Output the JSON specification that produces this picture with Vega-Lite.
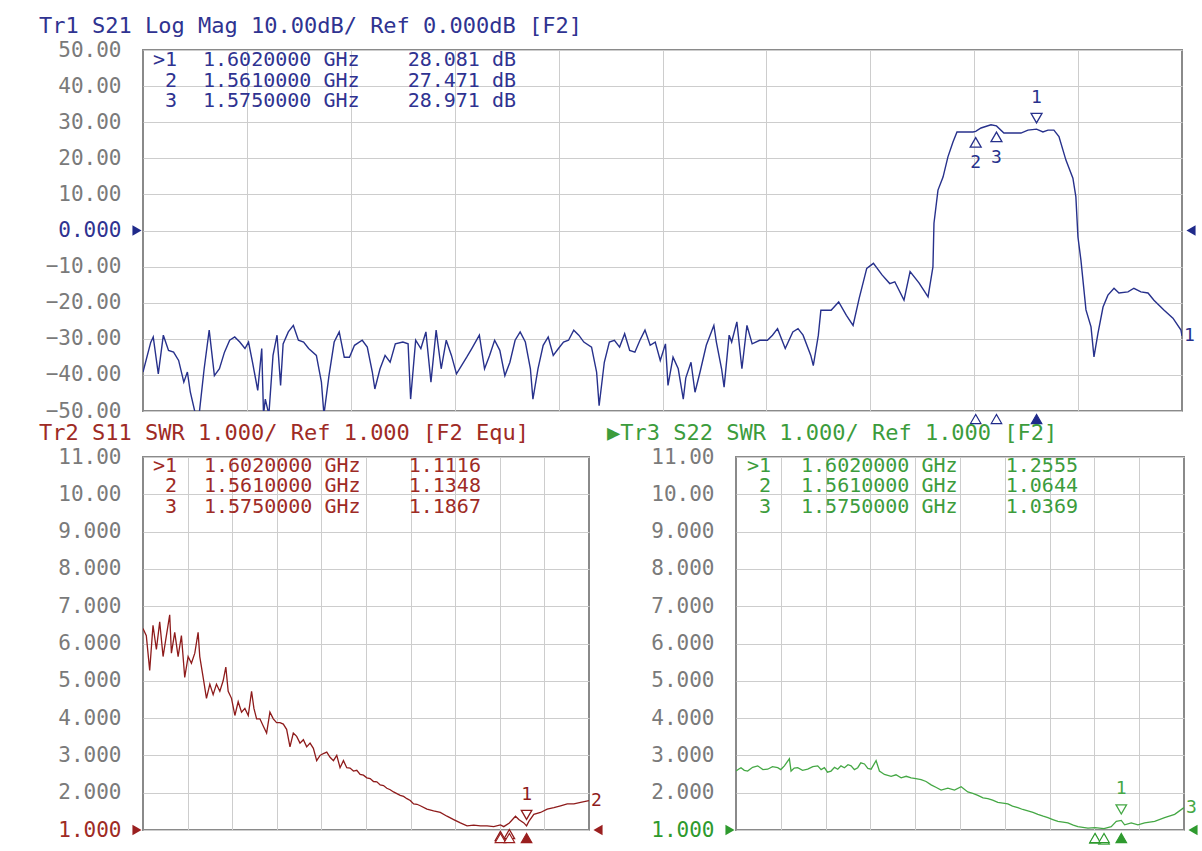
{
  "$schema": "https://vega.github.io/schema/vega-lite/v6.json",
  "background": "white",
  "padding": {"left": 38, "top": 14, "right": 4, "bottom": 4},
  "config": {
    "view": {"stroke": "#8a8a8a", "strokeWidth": 2},
    "axis": {"grid": true, "gridColor": "#cdcdcd", "gridWidth": 1, "ticks": false, "domain": false, "labelFont": "DejaVu Sans Mono", "labelFontSize": 21, "labelColor": "#7a7a7a", "labelFlush": false, "labelOverlap": false},
    "title": {"font": "DejaVu Sans Mono", "fontSize": 22, "fontWeight": "normal", "anchor": "start", "frame": "group"},
    "text": {"font": "DejaVu Sans Mono"}
  },
  "datasets": {
    "markers": [
      {"m": 1, "trace": "S21", "f": 1.602, "v": 28.081},
      {"m": 2, "trace": "S21", "f": 1.561, "v": 27.471},
      {"m": 3, "trace": "S21", "f": 1.575, "v": 28.971},
      {"m": 1, "trace": "S11", "f": 1.602, "v": 1.1116},
      {"m": 2, "trace": "S11", "f": 1.561, "v": 1.1348},
      {"m": 3, "trace": "S11", "f": 1.575, "v": 1.1867},
      {"m": 1, "trace": "S22", "f": 1.602, "v": 1.2555},
      {"m": 2, "trace": "S22", "f": 1.561, "v": 1.0644},
      {"m": 3, "trace": "S22", "f": 1.575, "v": 1.0369}
    ],
    "refs": [
      {"trace": "S21", "v": 0, "fstart": 1.0, "fstop": 1.7},
      {"trace": "S11", "v": 1, "fstart": 1.0, "fstop": 1.7},
      {"trace": "S22", "v": 1, "fstart": 1.0, "fstop": 1.7}
    ],
    "s21": [
      {"f":1.0,"v":-39.2},{"f":1.0052,"v":-31},{"f":1.0069,"v":-29.5},{"f":1.0103,"v":-39.7},{"f":1.0137,"v":-29.0},{"f":1.0172,"v":-33.2},{"f":1.0206,"v":-33.7},{"f":1.024,"v":-36.0},{"f":1.0275,"v":-42.0},{"f":1.0299,"v":-39.2},{"f":1.0319,"v":-44.8},{"f":1.0354,"v":-51},{"f":1.0378,"v":-51},{"f":1.0412,"v":-38.3},{"f":1.0446,"v":-27.6},{"f":1.0481,"v":-40.2},{"f":1.0515,"v":-38.3},{"f":1.0549,"v":-33.7},{"f":1.0584,"v":-30.4},{"f":1.0618,"v":-29.5},{"f":1.0652,"v":-30.9},{"f":1.0687,"v":-32.7},{"f":1.0711,"v":-30.9},{"f":1.0738,"v":-36.5},{"f":1.0773,"v":-44.3},{"f":1.08,"v":-32.7},{"f":1.0812,"v":-51},{"f":1.0824,"v":-46.7},{"f":1.0848,"v":-51},{"f":1.0876,"v":-34.6},{"f":1.0903,"v":-29.0},{"f":1.0927,"v":-42.9},{"f":1.0944,"v":-31.4},{"f":1.0979,"v":-28.1},{"f":1.1013,"v":-26.3},{"f":1.1047,"v":-30.4},{"f":1.1082,"v":-30.9},{"f":1.1116,"v":-32.7},{"f":1.1168,"v":-34.6},{"f":1.1202,"v":-42.0},{"f":1.1219,"v":-51},{"f":1.1253,"v":-40.2},{"f":1.1288,"v":-30.9},{"f":1.1322,"v":-28.1},{"f":1.1356,"v":-35.1},{"f":1.1391,"v":-35.1},{"f":1.1425,"v":-31.8},{"f":1.1477,"v":-30.4},{"f":1.1511,"v":-32.3},{"f":1.1545,"v":-39.2},{"f":1.1562,"v":-43.9},{"f":1.1597,"v":-38.3},{"f":1.1631,"v":-34.6},{"f":1.1665,"v":-36.5},{"f":1.17,"v":-31.4},{"f":1.1751,"v":-30.9},{"f":1.1786,"v":-31.4},{"f":1.1803,"v":-46.7},{"f":1.1837,"v":-30.4},{"f":1.1872,"v":-32.7},{"f":1.1906,"v":-28.1},{"f":1.194,"v":-42.0},{"f":1.1975,"v":-27.6},{"f":1.2009,"v":-38.3},{"f":1.2043,"v":-30.4},{"f":1.2078,"v":-34.6},{"f":1.2112,"v":-39.7},{"f":1.2146,"v":-37.4},{"f":1.2181,"v":-35.1},{"f":1.2215,"v":-32.7},{"f":1.2266,"v":-29.0},{"f":1.2301,"v":-38.3},{"f":1.2335,"v":-34.6},{"f":1.2369,"v":-30.4},{"f":1.2404,"v":-33.2},{"f":1.2438,"v":-40.2},{"f":1.2472,"v":-36.5},{"f":1.2507,"v":-30.4},{"f":1.2541,"v":-28.1},{"f":1.2576,"v":-30.9},{"f":1.261,"v":-38.3},{"f":1.2627,"v":-46.7},{"f":1.2661,"v":-38.3},{"f":1.2696,"v":-31.8},{"f":1.273,"v":-29.5},{"f":1.2764,"v":-34.6},{"f":1.2799,"v":-32.7},{"f":1.2833,"v":-30.9},{"f":1.2867,"v":-30.4},{"f":1.2902,"v":-27.6},{"f":1.2936,"v":-29.0},{"f":1.297,"v":-30.9},{"f":1.3022,"v":-32.3},{"f":1.3056,"v":-39.2},{"f":1.3073,"v":-48.5},{"f":1.3108,"v":-36.5},{"f":1.3142,"v":-30.9},{"f":1.3176,"v":-30.4},{"f":1.3211,"v":-32.3},{"f":1.3245,"v":-28.6},{"f":1.3279,"v":-33.2},{"f":1.3314,"v":-33.7},{"f":1.3348,"v":-30.4},{"f":1.3382,"v":-27.6},{"f":1.3417,"v":-31.8},{"f":1.3451,"v":-30.9},{"f":1.3485,"v":-36.0},{"f":1.352,"v":-31.4},{"f":1.3537,"v":-42.9},{"f":1.3571,"v":-35.1},{"f":1.3606,"v":-38.3},{"f":1.364,"v":-46.7},{"f":1.3657,"v":-40.8},{"f":1.3692,"v":-36.5},{"f":1.3719,"v":-44.8},{"f":1.3753,"v":-39.2},{"f":1.3795,"v":-31.8},{"f":1.3846,"v":-26.3},{"f":1.3863,"v":-30.9},{"f":1.3898,"v":-38.3},{"f":1.3915,"v":-43.4},{"f":1.3949,"v":-29.0},{"f":1.3966,"v":-30.9},{"f":1.4001,"v":-25.3},{"f":1.4035,"v":-38.3},{"f":1.4069,"v":-26.3},{"f":1.4104,"v":-31.4},{"f":1.4155,"v":-30.4},{"f":1.4207,"v":-30.4},{"f":1.4241,"v":-29.0},{"f":1.4275,"v":-27.2},{"f":1.4327,"v":-32.7},{"f":1.4378,"v":-28.1},{"f":1.4413,"v":-27.2},{"f":1.4447,"v":-29.0},{"f":1.4499,"v":-34.6},{"f":1.4516,"v":-37.4},{"f":1.455,"v":-29.0},{"f":1.4567,"v":-22.1},{"f":1.4636,"v":-22.1},{"f":1.4687,"v":-19.8},{"f":1.4739,"v":-23.5},{"f":1.4784,"v":-26.3},{"f":1.4825,"v":-18.8},{"f":1.4876,"v":-10.5},{"f":1.4921,"v":-9.1},{"f":1.4979,"v":-12.3},{"f":1.5031,"v":-14.7},{"f":1.5065,"v":-14.2},{"f":1.5127,"v":-19.3},{"f":1.5168,"v":-11.4},{"f":1.5228,"v":-14.5},{"f":1.5289,"v":-18.4},{"f":1.5322,"v":-10.1},{"f":1.5329,"v":2},{"f":1.5356,"v":11.2},{"f":1.539,"v":14.8},{"f":1.5423,"v":20.4},{"f":1.5457,"v":24.5},{"f":1.5484,"v":27.3},{"f":1.5592,"v":27.3},{"f":1.561,"v":27.471},{"f":1.5646,"v":28.4},{"f":1.5713,"v":29.3},{"f":1.575,"v":28.971},{"f":1.58,"v":27.0},{"f":1.5915,"v":27.0},{"f":1.5962,"v":27.8},{"f":1.602,"v":28.081},{"f":1.6063,"v":27.3},{"f":1.6097,"v":27.8},{"f":1.6137,"v":27.8},{"f":1.6171,"v":26},{"f":1.6218,"v":19.5},{"f":1.6265,"v":14.5},{"f":1.6285,"v":9.3},{"f":1.6299,"v":-1.8},{"f":1.6319,"v":-8.2},{"f":1.6353,"v":-22},{"f":1.6387,"v":-26.7},{"f":1.6407,"v":-35},{"f":1.6434,"v":-28.4},{"f":1.6468,"v":-21.2},{"f":1.6501,"v":-17.9},{"f":1.6542,"v":-16},{"f":1.6575,"v":-17.3},{"f":1.6636,"v":-17},{"f":1.6676,"v":-16},{"f":1.6723,"v":-17},{"f":1.6771,"v":-17.3},{"f":1.6811,"v":-19.3},{"f":1.6878,"v":-22},{"f":1.6939,"v":-24.3},{"f":1.6993,"v":-27.6},{"f":1.7,"v":-29.2}
    ],
    "s11": [
      {"f":1.0,"v":6.40},{"f":1.0052,"v":6.21},{"f":1.0105,"v":5.28},{"f":1.0157,"v":6.49},{"f":1.021,"v":5.84},{"f":1.0262,"v":6.58},{"f":1.0315,"v":5.65},{"f":1.0367,"v":6.21},{"f":1.0419,"v":6.77},{"f":1.0446,"v":5.74},{"f":1.0498,"v":6.30},{"f":1.0551,"v":5.65},{"f":1.0603,"v":6.21},{"f":1.0655,"v":5.09},{"f":1.0708,"v":5.65},{"f":1.076,"v":5.47},{"f":1.0813,"v":5.74},{"f":1.0865,"v":6.30},{"f":1.0891,"v":5.65},{"f":1.0944,"v":5.09},{"f":1.0996,"v":4.53},{"f":1.1049,"v":4.91},{"f":1.1101,"v":4.63},{"f":1.1153,"v":4.91},{"f":1.1206,"v":4.72},{"f":1.1258,"v":5.00},{"f":1.13,"v":5.37},{"f":1.1337,"v":4.72},{"f":1.1389,"v":4.53},{"f":1.1442,"v":4.07},{"f":1.1494,"v":4.44},{"f":1.1547,"v":4.16},{"f":1.1599,"v":4.26},{"f":1.1652,"v":4.07},{"f":1.1704,"v":4.72},{"f":1.1741,"v":4.26},{"f":1.1783,"v":3.98},{"f":1.1835,"v":3.98},{"f":1.1887,"v":3.79},{"f":1.194,"v":3.60},{"f":1.1992,"v":4.16},{"f":1.2045,"v":3.98},{"f":1.2097,"v":3.88},{"f":1.215,"v":3.88},{"f":1.2202,"v":3.84},{"f":1.2254,"v":3.70},{"f":1.2307,"v":3.23},{"f":1.2359,"v":3.60},{"f":1.2412,"v":3.51},{"f":1.2464,"v":3.33},{"f":1.2517,"v":3.42},{"f":1.2569,"v":3.23},{"f":1.2622,"v":3.33},{"f":1.2674,"v":3.19},{"f":1.2726,"v":2.86},{"f":1.2779,"v":3.00},{"f":1.2831,"v":3.05},{"f":1.2884,"v":3.09},{"f":1.2936,"v":2.95},{"f":1.2989,"v":2.86},{"f":1.3041,"v":3.00},{"f":1.3093,"v":2.67},{"f":1.3146,"v":2.86},{"f":1.3198,"v":2.67},{"f":1.325,"v":2.66},{"f":1.3303,"v":2.58},{"f":1.3355,"v":2.60},{"f":1.3408,"v":2.49},{"f":1.346,"v":2.47},{"f":1.3513,"v":2.40},{"f":1.3565,"v":2.38},{"f":1.3618,"v":2.30},{"f":1.367,"v":2.29},{"f":1.3723,"v":2.21},{"f":1.3775,"v":2.19},{"f":1.3827,"v":2.12},{"f":1.388,"v":2.08},{"f":1.3932,"v":2.02},{"f":1.4037,"v":1.93},{"f":1.409,"v":1.90},{"f":1.4142,"v":1.84},{"f":1.4195,"v":1.79},{"f":1.4247,"v":1.70},{"f":1.43,"v":1.69},{"f":1.4352,"v":1.65},{"f":1.4457,"v":1.56},{"f":1.4561,"v":1.51},{"f":1.4666,"v":1.47},{"f":1.4771,"v":1.37},{"f":1.4876,"v":1.28},{"f":1.4981,"v":1.19},{"f":1.5086,"v":1.11},{"f":1.5191,"v":1.13},{"f":1.5295,"v":1.11},{"f":1.54,"v":1.11},{"f":1.5505,"v":1.09},{"f":1.561,"v":1.1348},{"f":1.5662,"v":1.09},{"f":1.575,"v":1.1867},{"f":1.5846,"v":1.37},{"f":1.5898,"v":1.28},{"f":1.5977,"v":1.19},{"f":1.602,"v":1.1116},{"f":1.6056,"v":1.23},{"f":1.6134,"v":1.42},{"f":1.6239,"v":1.47},{"f":1.6344,"v":1.56},{"f":1.6449,"v":1.60},{"f":1.6554,"v":1.65},{"f":1.6659,"v":1.70},{"f":1.6763,"v":1.70},{"f":1.6868,"v":1.74},{"f":1.7,"v":1.79}
    ],
    "s22": [
      {"f":1.0,"v":2.58},{"f":1.0039,"v":2.63},{"f":1.0078,"v":2.67},{"f":1.013,"v":2.60},{"f":1.0182,"v":2.58},{"f":1.026,"v":2.68},{"f":1.0339,"v":2.72},{"f":1.042,"v":2.62},{"f":1.0495,"v":2.63},{"f":1.057,"v":2.70},{"f":1.0652,"v":2.67},{"f":1.07,"v":2.62},{"f":1.0756,"v":2.72},{"f":1.0834,"v":2.91},{"f":1.086,"v":2.58},{"f":1.091,"v":2.66},{"f":1.0964,"v":2.67},{"f":1.104,"v":2.60},{"f":1.1121,"v":2.63},{"f":1.12,"v":2.70},{"f":1.1277,"v":2.72},{"f":1.133,"v":2.62},{"f":1.1381,"v":2.67},{"f":1.143,"v":2.55},{"f":1.1485,"v":2.58},{"f":1.154,"v":2.68},{"f":1.159,"v":2.63},{"f":1.164,"v":2.72},{"f":1.1694,"v":2.67},{"f":1.175,"v":2.75},{"f":1.1798,"v":2.72},{"f":1.185,"v":2.62},{"f":1.1902,"v":2.67},{"f":1.195,"v":2.80},{"f":1.2007,"v":2.77},{"f":1.206,"v":2.65},{"f":1.2111,"v":2.63},{"f":1.2189,"v":2.86},{"f":1.2241,"v":2.58},{"f":1.2319,"v":2.49},{"f":1.2424,"v":2.44},{"f":1.25,"v":2.48},{"f":1.258,"v":2.40},{"f":1.266,"v":2.44},{"f":1.2736,"v":2.40},{"f":1.281,"v":2.38},{"f":1.2893,"v":2.35},{"f":1.297,"v":2.30},{"f":1.3049,"v":2.21},{"f":1.313,"v":2.14},{"f":1.3205,"v":2.07},{"f":1.331,"v":2.12},{"f":1.3414,"v":2.07},{"f":1.3518,"v":2.16},{"f":1.3622,"v":2.02},{"f":1.37,"v":1.98},{"f":1.3779,"v":1.93},{"f":1.386,"v":1.86},{"f":1.3935,"v":1.84},{"f":1.401,"v":1.80},{"f":1.4091,"v":1.74},{"f":1.417,"v":1.72},{"f":1.4248,"v":1.70},{"f":1.432,"v":1.64},{"f":1.4404,"v":1.60},{"f":1.448,"v":1.55},{"f":1.4561,"v":1.51},{"f":1.464,"v":1.47},{"f":1.4717,"v":1.42},{"f":1.48,"v":1.37},{"f":1.4873,"v":1.33},{"f":1.495,"v":1.28},{"f":1.503,"v":1.23},{"f":1.511,"v":1.21},{"f":1.5186,"v":1.19},{"f":1.527,"v":1.13},{"f":1.5342,"v":1.09},{"f":1.542,"v":1.07},{"f":1.5499,"v":1.05},{"f":1.561,"v":1.0644},{"f":1.575,"v":1.0369},{"f":1.5863,"v":1.09},{"f":1.5942,"v":1.23},{"f":1.602,"v":1.2555},{"f":1.6072,"v":1.14},{"f":1.6176,"v":1.19},{"f":1.628,"v":1.14},{"f":1.6385,"v":1.19},{"f":1.6541,"v":1.23},{"f":1.6697,"v":1.33},{"f":1.6854,"v":1.42},{"f":1.7,"v":1.60}
    ]
  },
  "spacing": 46,
  "bounds": "flush",
  "vconcat": [
    {
      "width": 1039,
      "height": 361,
      "title": {"text": "Tr1 S21 Log Mag 10.00dB/ Ref 0.000dB [F2]", "color": "#2f3391", "dx": -104, "offset": 1},
      "encoding": {
        "x": {"field": "f", "type": "quantitative", "title": null, "scale": {"domain": [1.0, 1.7], "nice": false, "zero": false}, "axis": {"values": [1.07, 1.14, 1.21, 1.28, 1.35, 1.42, 1.49, 1.56, 1.63], "labels": false, "title": null}},
        "y": {"field": "v", "type": "quantitative", "title": null, "scale": {"domain": [-50, 50], "nice": false, "zero": false}, "axis": {"values": [-50, -40, -30, -20, -10, 0, 10, 20, 30, 40, 50], "labelExpr": "datum.value == 0 ? '0.000' : format(datum.value, '.4r')", "title": null, "labelPadding": 22, "labelColor": {"condition": {"test": "datum.value == 0", "value": "#2f3391"}, "value": "#7a7a7a"}}}
      },
      "layer": [
        {"data": {"name": "s21"}, "mark": {"type": "line", "color": "#27318c", "strokeWidth": 1.4, "clip": true}},
        {"data": {"name": "refs"}, "transform": [{"filter": "datum.trace == 'S21'"}], "mark": {"type": "point", "shape": "triangle-right", "filled": true, "color": "#1f2a8a", "opacity": 1, "size": 110, "xOffset": -6},
         "encoding": {"x": {"field": "fstart", "type": "quantitative", "title": null}}},
        {"data": {"name": "refs"}, "transform": [{"filter": "datum.trace == 'S21'"}], "mark": {"type": "point", "shape": "triangle-left", "filled": true, "color": "#1f2a8a", "opacity": 1, "size": 110, "xOffset": 9},
         "encoding": {"x": {"field": "fstop", "type": "quantitative", "title": null}}},
        {"data": {"name": "markers"}, "transform": [{"filter": "datum.trace == 'S21' && datum.m == 1"}], "mark": {"type": "point", "shape": "triangle-down", "filled": false, "color": "#27318c", "strokeWidth": 1.3, "opacity": 1, "size": 120, "yOffset": -11}},
        {"data": {"name": "markers"}, "transform": [{"filter": "datum.trace == 'S21' && datum.m != 1"}], "mark": {"type": "point", "shape": "triangle-up", "filled": false, "color": "#27318c", "strokeWidth": 1.3, "opacity": 1, "size": 120, "yOffset": 11}},
        {"data": {"name": "markers"}, "transform": [{"filter": "datum.trace == 'S21' && datum.m == 1"}], "mark": {"type": "text", "color": "#27318c", "fontSize": 18, "dy": -31}, "encoding": {"text": {"field": "m"}}},
        {"data": {"name": "markers"}, "transform": [{"filter": "datum.trace == 'S21' && datum.m != 1"}], "mark": {"type": "text", "color": "#27318c", "fontSize": 18, "dy": 32}, "encoding": {"text": {"field": "m"}}},
        {"data": {"name": "markers"}, "transform": [{"filter": "datum.trace == 'S21'"}], "mark": {"type": "point", "shape": "triangle-up", "filled": true, "stroke": "#1f2a8a", "strokeWidth": 1.2, "opacity": 1, "size": 110, "yOffset": 8},
         "encoding": {"y": {"datum": -50}, "fill": {"condition": {"test": "datum.m == 1", "value": "#1f2a8a"}, "value": "#ffffff"}}},
        {"data": {"name": "s21"}, "transform": [{"filter": "datum.f == 1.7"}], "mark": {"type": "text", "color": "#27318c", "fontSize": 18, "align": "left", "dx": 2}, "encoding": {"text": {"value": "1"}}},
        {"data": {"name": "markers"}, "transform": [{"filter": "datum.trace == 'S21'"}, {"calculate": "47.2 - 5.7 * (datum.m - 1)", "as": "ty"}, {"calculate": "(datum.m == 1 ? '>' : '') + datum.m", "as": "id"}], "mark": {"type": "text", "color": "#2f3391", "fontSize": 20, "align": "right", "baseline": "middle"},
         "encoding": {"x": {"datum": 1.0229}, "y": {"field": "ty", "type": "quantitative", "title": null}, "text": {"field": "id"}}},
        {"data": {"name": "markers"}, "transform": [{"filter": "datum.trace == 'S21'"}, {"calculate": "47.2 - 5.7 * (datum.m - 1)", "as": "ty"}, {"calculate": "format(datum.f, '.7f') + ' GHz\u00a0\u00a0\u00a0\u00a0' + format(datum.v, '.3f') + ' dB'", "as": "label"}], "mark": {"type": "text", "color": "#2f3391", "fontSize": 20, "align": "left", "baseline": "middle"},
         "encoding": {"x": {"datum": 1.0404}, "y": {"field": "ty", "type": "quantitative", "title": null}, "text": {"field": "label"}}}
      ]
    },
    {
      "spacing": 147,
      "bounds": "flush",
      "hconcat": [
        {
          "width": 446,
          "height": 373,
          "title": {"text": "Tr2 S11 SWR 1.000/ Ref 1.000 [F2 Equ]", "color": "#9e2b25", "dx": -104, "offset": 1},
          "encoding": {
            "x": {"field": "f", "type": "quantitative", "title": null, "scale": {"domain": [1.0, 1.7], "nice": false, "zero": false}, "axis": {"values": [1.07, 1.14, 1.21, 1.28, 1.35, 1.42, 1.49, 1.56, 1.63], "labels": false, "title": null}},
            "y": {"field": "v", "type": "quantitative", "title": null, "scale": {"domain": [1, 11], "nice": false, "zero": false}, "axis": {"values": [1, 2, 3, 4, 5, 6, 7, 8, 9, 10, 11], "format": ".4r", "title": null, "labelPadding": 22, "labelColor": {"condition": {"test": "datum.value == 1", "value": "#9e2b25"}, "value": "#7a7a7a"}}}
          },
          "layer": [
            {"data": {"name": "s11"}, "mark": {"type": "line", "color": "#8e1b1b", "strokeWidth": 1.3, "clip": true}},
            {"data": {"name": "refs"}, "transform": [{"filter": "datum.trace == 'S11'"}], "mark": {"type": "point", "shape": "triangle-right", "filled": true, "color": "#9a1f1f", "opacity": 1, "size": 110, "xOffset": -6},
             "encoding": {"x": {"field": "fstart", "type": "quantitative", "title": null}}},
            {"data": {"name": "refs"}, "transform": [{"filter": "datum.trace == 'S11'"}], "mark": {"type": "point", "shape": "triangle-left", "filled": true, "color": "#9a1f1f", "opacity": 1, "size": 110, "xOffset": 9},
             "encoding": {"x": {"field": "fstop", "type": "quantitative", "title": null}}},
            {"data": {"name": "markers"}, "transform": [{"filter": "datum.trace == 'S11' && datum.m == 1"}], "mark": {"type": "point", "shape": "triangle-down", "filled": false, "color": "#8e1b1b", "strokeWidth": 1.3, "opacity": 1, "size": 110, "yOffset": -11}},
            {"data": {"name": "markers"}, "transform": [{"filter": "datum.trace == 'S11' && datum.m != 1"}], "mark": {"type": "point", "shape": "triangle-up", "filled": false, "color": "#8e1b1b", "strokeWidth": 1.3, "opacity": 1, "size": 110, "yOffset": 11}},
            {"data": {"name": "markers"}, "transform": [{"filter": "datum.trace == 'S11' && datum.m == 1"}], "mark": {"type": "text", "color": "#8e1b1b", "fontSize": 18, "dy": -31}, "encoding": {"text": {"field": "m"}}},
            {"data": {"name": "markers"}, "transform": [{"filter": "datum.trace == 'S11'"}], "mark": {"type": "point", "shape": "triangle-up", "filled": true, "stroke": "#9a1f1f", "strokeWidth": 1.2, "opacity": 1, "size": 110, "yOffset": 8},
             "encoding": {"y": {"datum": 1}, "fill": {"condition": {"test": "datum.m == 1", "value": "#9a1f1f"}, "value": "#ffffff"}}},
            {"data": {"name": "s11"}, "transform": [{"filter": "datum.f == 1.7"}], "mark": {"type": "text", "color": "#8e1b1b", "fontSize": 18, "align": "left", "dx": 2}, "encoding": {"text": {"value": "2"}}},
            {"data": {"name": "markers"}, "transform": [{"filter": "datum.trace == 'S11'"}, {"calculate": "10.76 - 0.55 * (datum.m - 1)", "as": "ty"}, {"calculate": "(datum.m == 1 ? '>' : '') + datum.m", "as": "id"}], "mark": {"type": "text", "color": "#9e2b25", "fontSize": 20, "align": "right", "baseline": "middle"},
             "encoding": {"x": {"datum": 1.0534}, "y": {"field": "ty", "type": "quantitative", "title": null}, "text": {"field": "id"}}},
            {"data": {"name": "markers"}, "transform": [{"filter": "datum.trace == 'S11'"}, {"calculate": "10.76 - 0.55 * (datum.m - 1)", "as": "ty"}, {"calculate": "format(datum.f, '.7f') + ' GHz\u00a0\u00a0\u00a0\u00a0' + format(datum.v, '.4f')", "as": "label"}], "mark": {"type": "text", "color": "#9e2b25", "fontSize": 20, "align": "left", "baseline": "middle"},
             "encoding": {"x": {"datum": 1.0957}, "y": {"field": "ty", "type": "quantitative", "title": null}, "text": {"field": "label"}}}
          ]
        },
        {
          "width": 448,
          "height": 373,
          "title": {"text": "▶Tr3 S22 SWR 1.000/ Ref 1.000 [F2]", "color": "#3c9c3c", "dx": -129, "offset": 1},
          "encoding": {
            "x": {"field": "f", "type": "quantitative", "title": null, "scale": {"domain": [1.0, 1.7], "nice": false, "zero": false}, "axis": {"values": [1.07, 1.14, 1.21, 1.28, 1.35, 1.42, 1.49, 1.56, 1.63], "labels": false, "title": null}},
            "y": {"field": "v", "type": "quantitative", "title": null, "scale": {"domain": [1, 11], "nice": false, "zero": false}, "axis": {"values": [1, 2, 3, 4, 5, 6, 7, 8, 9, 10, 11], "format": ".4r", "title": null, "labelPadding": 22, "labelColor": {"condition": {"test": "datum.value == 1", "value": "#2e9a2e"}, "value": "#7a7a7a"}}}
          },
          "layer": [
            {"data": {"name": "s22"}, "mark": {"type": "line", "color": "#45a845", "strokeWidth": 1.3, "clip": true}},
            {"data": {"name": "refs"}, "transform": [{"filter": "datum.trace == 'S22'"}], "mark": {"type": "point", "shape": "triangle-right", "filled": true, "color": "#2e9a2e", "opacity": 1, "size": 110, "xOffset": -6},
             "encoding": {"x": {"field": "fstart", "type": "quantitative", "title": null}}},
            {"data": {"name": "refs"}, "transform": [{"filter": "datum.trace == 'S22'"}], "mark": {"type": "point", "shape": "triangle-left", "filled": true, "color": "#2e9a2e", "opacity": 1, "size": 110, "xOffset": 9},
             "encoding": {"x": {"field": "fstop", "type": "quantitative", "title": null}}},
            {"data": {"name": "markers"}, "transform": [{"filter": "datum.trace == 'S22' && datum.m == 1"}], "mark": {"type": "point", "shape": "triangle-down", "filled": false, "color": "#45a845", "strokeWidth": 1.3, "opacity": 1, "size": 110, "yOffset": -11}},
            {"data": {"name": "markers"}, "transform": [{"filter": "datum.trace == 'S22' && datum.m != 1"}], "mark": {"type": "point", "shape": "triangle-up", "filled": false, "color": "#45a845", "strokeWidth": 1.3, "opacity": 1, "size": 110, "yOffset": 11}},
            {"data": {"name": "markers"}, "transform": [{"filter": "datum.trace == 'S22' && datum.m == 1"}], "mark": {"type": "text", "color": "#45a845", "fontSize": 18, "dy": -31}, "encoding": {"text": {"field": "m"}}},
            {"data": {"name": "markers"}, "transform": [{"filter": "datum.trace == 'S22'"}], "mark": {"type": "point", "shape": "triangle-up", "filled": true, "stroke": "#2e9a2e", "strokeWidth": 1.2, "opacity": 1, "size": 110, "yOffset": 8},
             "encoding": {"y": {"datum": 1}, "fill": {"condition": {"test": "datum.m == 1", "value": "#2e9a2e"}, "value": "#ffffff"}}},
            {"data": {"name": "s22"}, "transform": [{"filter": "datum.f == 1.7"}], "mark": {"type": "text", "color": "#45a845", "fontSize": 18, "align": "left", "dx": 2}, "encoding": {"text": {"value": "3"}}},
            {"data": {"name": "markers"}, "transform": [{"filter": "datum.trace == 'S22'"}, {"calculate": "10.76 - 0.55 * (datum.m - 1)", "as": "ty"}, {"calculate": "(datum.m == 1 ? '>' : '') + datum.m", "as": "id"}], "mark": {"type": "text", "color": "#3c9c3c", "fontSize": 20, "align": "right", "baseline": "middle"},
             "encoding": {"x": {"datum": 1.0547}, "y": {"field": "ty", "type": "quantitative", "title": null}, "text": {"field": "id"}}},
            {"data": {"name": "markers"}, "transform": [{"filter": "datum.trace == 'S22'"}, {"calculate": "10.76 - 0.55 * (datum.m - 1)", "as": "ty"}, {"calculate": "format(datum.f, '.7f') + ' GHz\u00a0\u00a0\u00a0\u00a0' + format(datum.v, '.4f')", "as": "label"}], "mark": {"type": "text", "color": "#3c9c3c", "fontSize": 20, "align": "left", "baseline": "middle"},
             "encoding": {"x": {"datum": 1.1016}, "y": {"field": "ty", "type": "quantitative", "title": null}, "text": {"field": "label"}}}
          ]
        }
      ]
    }
  ]
}
